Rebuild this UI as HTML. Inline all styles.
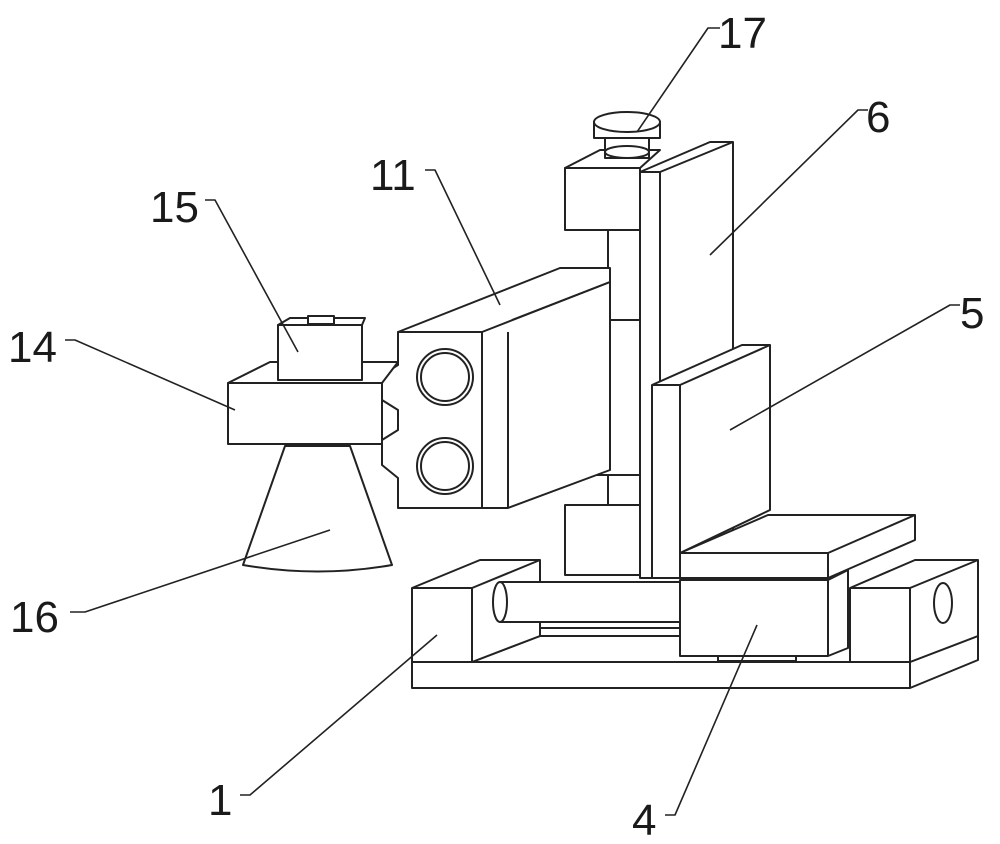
<!DOCTYPE html>
<html><head><meta charset="utf-8"><style>
html,body{margin:0;padding:0;background:#fff;}
svg{display:block}
text{font-family:"Liberation Sans",sans-serif;font-size:44px;fill:#1a1a1a}
</style></head><body>
<svg width="1000" height="844" viewBox="0 0 1000 844" xmlns="http://www.w3.org/2000/svg" fill="#fff" stroke="#222" stroke-width="2" stroke-linejoin="round">
<polygon points="412,662 910,662 978,636 978,660 910,688 412,688"/>
<line x1="910" y1="662" x2="910" y2="688"/>
<polygon points="472,662 540,636 850,636 850,662"/>
<polygon points="412,588 480,560 540,560 540,636 472,662 412,662"/>
<line x1="412" y1="588" x2="472" y2="588"/><line x1="472" y1="588" x2="540" y2="560"/><line x1="472" y1="588" x2="472" y2="662"/>
<rect x="500" y="582" width="190" height="40"/>
<ellipse cx="500" cy="602" rx="7" ry="20"/>
<line x1="540" y1="628" x2="690" y2="628"/>
<polygon points="680,580 828,580 848,570 848,648 828,656 680,656"/>
<line x1="828" y1="580" x2="828" y2="656"/>
<rect x="718" y="656" width="78" height="5"/>
<polygon points="850,588 915,560 978,560 978,636 910,662 850,662"/>
<line x1="850" y1="588" x2="910" y2="588"/><line x1="910" y1="588" x2="978" y2="560"/><line x1="910" y1="588" x2="910" y2="662"/>
<ellipse cx="943" cy="603" rx="9" ry="20"/>
<polygon points="565,168 600,150 660,150 640,168"/>
<rect x="565" y="168" width="75" height="62"/>
<rect x="608" y="230" width="32" height="90"/>
<rect x="562" y="320" width="80" height="155"/>
<rect x="608" y="475" width="32" height="30"/>
<rect x="565" y="505" width="75" height="70"/>
<polygon points="640,172 710,142 733,142 733,560 660,578 640,578"/>
<line x1="640" y1="172" x2="660" y2="172"/><line x1="660" y1="172" x2="733" y2="142"/><line x1="660" y1="172" x2="660" y2="578"/>
<rect x="605" y="128" width="44" height="30"/>
<ellipse cx="627" cy="152" rx="22" ry="6"/>
<rect x="594" y="122" width="66" height="16"/>
<ellipse cx="627" cy="122" rx="33" ry="10"/>
<polygon points="652,578 828,578 915,540 915,515 768,515 680,553"/>
<line x1="680" y1="553" x2="828" y2="553"/><line x1="828" y1="553" x2="915" y2="515"/><line x1="828" y1="553" x2="828" y2="578"/>
<polygon points="652,385 742,345 770,345 770,510 680,553 680,578 652,578"/>
<line x1="652" y1="385" x2="680" y2="385"/><line x1="680" y1="385" x2="770" y2="345"/><line x1="680" y1="385" x2="680" y2="553"/>
<polygon points="398,332 560,268 610,268 610,288 508,332"/>
<polygon points="482,332 610,282 610,470 508,508 482,508"/>
<line x1="508" y1="332" x2="508" y2="508"/><line x1="512" y1="320" x2="610" y2="282"/>
<polygon points="398,332 482,332 482,508 398,508 398,478 382,465 382,440 398,430 398,410 382,400 382,375 398,365"/>
<circle cx="445" cy="377" r="28"/><circle cx="445" cy="377" r="24"/>
<circle cx="445" cy="466" r="28"/><circle cx="445" cy="466" r="24"/>
<path d="M285,446 L350,446 L392,565 Q318,578 243,565 Z"/>
<polygon points="228,383 270,362 398,362 382,383"/>
<rect x="228" y="383" width="154" height="61"/>
<polygon points="278,325 290,318 365,318 362,325"/>
<rect x="278" y="325" width="84" height="55"/>
<rect x="308" y="316" width="26" height="8"/>
<g fill="none" stroke="#222" stroke-width="1.6">
<polyline points="720,28 708,28 637,132"/>
<polyline points="868,110 858,110 710,255"/>
<polyline points="960,305 950,305 730,430"/>
<polyline points="425,170 435,170 500,305"/>
<polyline points="205,200 215,200 298,352"/>
<polyline points="65,340 75,340 235,410"/>
<polyline points="70,612 85,612 330,530"/>
<polyline points="240,795 250,795 437,635"/>
<polyline points="665,815 675,815 757,625"/>
</g>
<g stroke="none">
<text x="718" y="48">17</text>
<text x="866" y="132">6</text>
<text x="960" y="328">5</text>
<text x="370" y="190">11</text>
<text x="150" y="222">15</text>
<text x="8" y="362">14</text>
<text x="10" y="632">16</text>
<text x="208" y="815">1</text>
<text x="632" y="835">4</text>
</g>
</svg>
</body></html>
